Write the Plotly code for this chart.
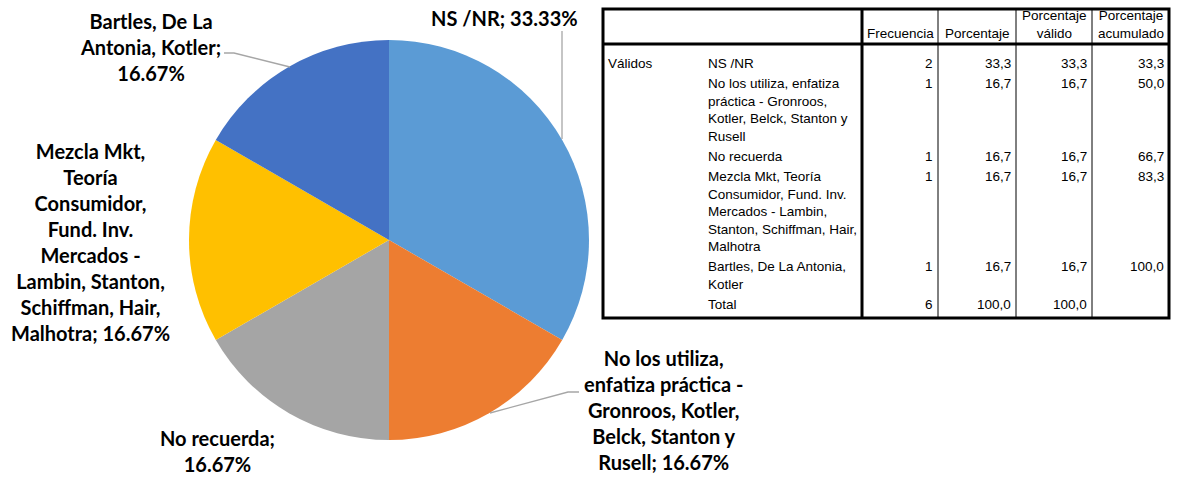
import plotly.graph_objects as go

# Data
categories = [
    "NS /NR",
    "No los utiliza, enfatiza práctica - Gronroos, Kotler, Belck, Stanton y Rusell",
    "No recuerda",
    "Mezcla Mkt, Teoría Consumidor, Fund. Inv. Mercados - Lambin, Stanton, Schiffman, Hair, Malhotra",
    "Bartles, De La Antonia, Kotler",
]
frecuencia = [2, 1, 1, 1, 1]
colors = ["#5B9BD5", "#ED7D31", "#A5A5A5", "#FFC000", "#4472C4"]

# wrapped labels as they appear on the chart / in the table
chart_labels = [
    "NS /NR; {pct}",
    "No los utiliza,<br>enfatiza práctica -<br>Gronroos, Kotler,<br>Belck, Stanton y<br>Rusell; {pct}",
    "No recuerda;<br>{pct}",
    "Mezcla Mkt,<br>Teoría<br>Consumidor,<br>Fund. Inv.<br>Mercados -<br>Lambin, Stanton,<br>Schiffman, Hair,<br>Malhotra; {pct}",
    "Bartles, De La<br>Antonia, Kotler;<br>{pct}",
]
table_labels = [
    ["NS /NR"],
    ["No los utiliza, enfatiza", "práctica - Gronroos,", "Kotler, Belck, Stanton y", "Rusell"],
    ["No recuerda"],
    ["Mezcla Mkt, Teoría", "Consumidor, Fund. Inv.", "Mercados - Lambin,", "Stanton, Schiffman, Hair,", "Malhotra"],
    ["Bartles, De La Antonia,", "Kotler"],
]
header = ["Frecuencia", "Porcentaje", "Porcentaje<br>válido", "Porcentaje<br>acumulado"]

W, H = 1179, 477
total = sum(frecuencia)
pcts = [f / total * 100 for f in frecuencia]

fig = go.Figure()

# Pie
cx, cy, r = 389, 240, 200
fig.add_trace(go.Pie(
    labels=categories, values=frecuencia, sort=False, direction="clockwise", rotation=0,
    marker=dict(colors=colors, line=dict(width=0)), textinfo="none", showlegend=False,
    domain=dict(x=[(cx - r) / W, (cx + r) / W], y=[(H - cy - r) / H, (H - cy + r) / H]),
))

# invisible pixel-space axes for labels and the table
fig.add_trace(go.Scatter(x=[0, W], y=[0, H], mode="markers", marker=dict(opacity=0), showlegend=False,
                         hoverinfo="skip"))

label_font = dict(family="Lato", size=20, color="black")
label_pos = [(504, 18), (663, 410), (217, 451), (90, 242), (150, 47)]
for lab, p, (lx, ly) in zip(chart_labels, pcts, label_pos):
    fig.add_annotation(x=lx, y=ly, xref="x", yref="y", text="<b>" + lab.format(pct=f"{p:.2f}%") + "</b>",
                       showarrow=False, font=label_font, align="center", xanchor="center", yanchor="middle")

# leader lines
leader = dict(color="#A6A6A6", width=1.3)
for path in ["M 562 31 L 562 139", "M 490 413 L 568 392 L 579 392", "M 224 53 L 234 53 L 290 67"]:
    fig.add_shape(type="path", path=path, xref="x", yref="y", line=leader)

# Table
tfont = dict(family="Liberation Sans", size=13.5, color="black")
lh = 17.55
col_x = [603, 862, 938, 1016, 1092, 1169]
top, head_bot, bottom = 9, 44, 318

def fmt(v):
    return f"{v:.1f}".replace(".", ",")

# header
for i, h in enumerate(header):
    n = h.count("<br>") + 1
    fig.add_annotation(x=(col_x[i + 1] + col_x[i + 2]) / 2, y=33 - (n - 1) * lh / 2, xref="x", yref="y", text=h,
                       showarrow=False, font=tfont, xanchor="center", yanchor="middle")

fig.add_annotation(x=606, y=63, xref="x", yref="y", text="Válidos", showarrow=False, font=tfont,
                   xanchor="left", yanchor="middle")

cum = 0
y = 63
rows = []
for lines, f, p in zip(table_labels, frecuencia, pcts):
    cum += p
    rows.append((lines, [str(f), fmt(p), fmt(p), fmt(cum)]))
rows.append((["Total"], [str(total), fmt(sum(pcts)), fmt(sum(pcts)), ""]))

for lines, vals in rows:
    n = len(lines)
    fig.add_annotation(x=706, y=y + (n - 1) * lh / 2, xref="x", yref="y", text="<br>".join(lines),
                       showarrow=False, font=tfont, xanchor="left", yanchor="middle", align="left")
    for j, v in enumerate(vals):
        if v:
            fig.add_annotation(x=col_x[j + 2] - 3, y=y, xref="x", yref="y", text=v, showarrow=False,
                               font=tfont, xanchor="right", yanchor="middle")
    y += n * lh + 2.7

thin = dict(color="black", width=1)
thick = dict(color="black", width=3)
fig.add_shape(type="rect", x0=col_x[0], x1=col_x[-1], y0=top, y1=bottom, xref="x", yref="y", line=thick)
fig.add_shape(type="line", x0=col_x[0], x1=col_x[-1], y0=head_bot, y1=head_bot, xref="x", yref="y", line=thick)
fig.add_shape(type="line", x0=col_x[1], x1=col_x[1], y0=top, y1=bottom, xref="x", yref="y", line=thick)
for xv in col_x[2:-1]:
    fig.add_shape(type="line", x0=xv, x1=xv, y0=top, y1=bottom, xref="x", yref="y", line=thin)

fig.update_layout(
    width=W, height=H,
    margin=dict(l=0, r=0, t=0, b=0),
    paper_bgcolor="white", plot_bgcolor="rgba(0,0,0,0)",
    xaxis=dict(range=[0, W], visible=False, fixedrange=True),
    yaxis=dict(range=[H, 0], visible=False, fixedrange=True),
)

# page has a default body margin; drop it so the figure fills the window
fig.write_html("out.html", config=dict(displayModeBar=False),
               post_script="document.body.style.margin='0';document.body.style.overflow='hidden';")
